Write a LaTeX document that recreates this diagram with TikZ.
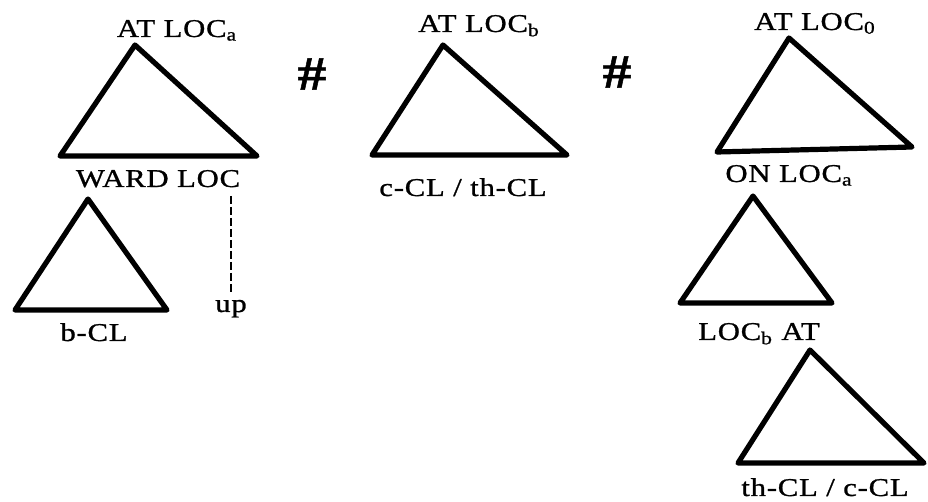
\documentclass[tikz,border=0pt]{standalone}
\usepackage{fontspec}
\setmainfont{Liberation Serif}[FakeStretch=1.2,LetterSpace=3,FakeBold=1]
\usetikzlibrary{positioning}
\tikzset{
  tri/.style={
    line width=2.6pt,
    line join=round,
    line cap=round
  },
  lbl/.style={
    anchor=base,
    inner sep=0pt,
    font=\fontsize{12.8}{14}\selectfont
  },
  hash/.style={
    inner sep=0pt,
    font=\fontsize{24}{26}\selectfont\bfseries
  },
  trace/.style={
    line width=0.8pt,
    dash pattern=on 4pt off 1.5pt
  }
}

\begin{document}
\begin{tikzpicture}[x=0.5pt,y=-0.5pt]
\useasboundingbox (0,0) rectangle (928,502);
% left tree
\coordinate (ta) at (135,45);
\coordinate (tl) at (60,156);
\coordinate (tr) at (257,156);
\coordinate (ba) at (88,199);
\coordinate (bl) at (15,310);
\coordinate (br) at (167,310);
\node[lbl] (atloca) at (177,37) {AT LOC\textsubscript{a}};
\node[lbl] (ward) at (158,187) {WARD LOC};
\node[lbl] (bcl) at (94,341) {b-CL};
\node[lbl] (up) at (231,312) {up};
\draw[tri] (ta) -- (tl) -- (tr) -- cycle;
\draw[tri] (ba) -- (bl) -- (br) -- cycle;
\draw[trace] ([yshift=-4pt]ward.south -| up.north) -- ([yshift=3pt]up.north);
\node[hash] (h1) at (312,74) {\#};
% middle tree
\coordinate (ma) at (443,45);
\coordinate (ml) at (372,155);
\coordinate (mr) at (567,155);
\node[lbl] (atlocb) at (479,32) {AT LOC\textsubscript{b}};
\node[lbl] (cth) at (463,196) {c-CL / th-CL};
\draw[tri] (ma) -- (ml) -- (mr) -- cycle;
\node[hash] (h2) at (617,72) {\#};
% right tree
\coordinate (ra) at (789,38);
\coordinate (rl) at (717,152);
\coordinate (rr) at (912,147);
\coordinate (sa) at (753,196);
\coordinate (sl) at (680,303);
\coordinate (sr) at (832,303);
\coordinate (ua) at (810,350);
\coordinate (ul) at (738,463);
\coordinate (ur) at (924,463);
\node[lbl] (atloco) at (815,30) {AT LOC\textsubscript{0}};
\node[lbl] (onloca) at (789,182) {ON LOC\textsubscript{a}};
\node[lbl] (locbat) at (759,340) {LOC\textsubscript{b} AT};
\node[lbl] (thc) at (825,496) {th-CL / c-CL};
\draw[tri] (ra) -- (rl) -- (rr) -- cycle;
\draw[tri] (sa) -- (sl) -- (sr) -- cycle;
\draw[tri] (ua) -- (ul) -- (ur) -- cycle;
\end{tikzpicture}
\end{document}
